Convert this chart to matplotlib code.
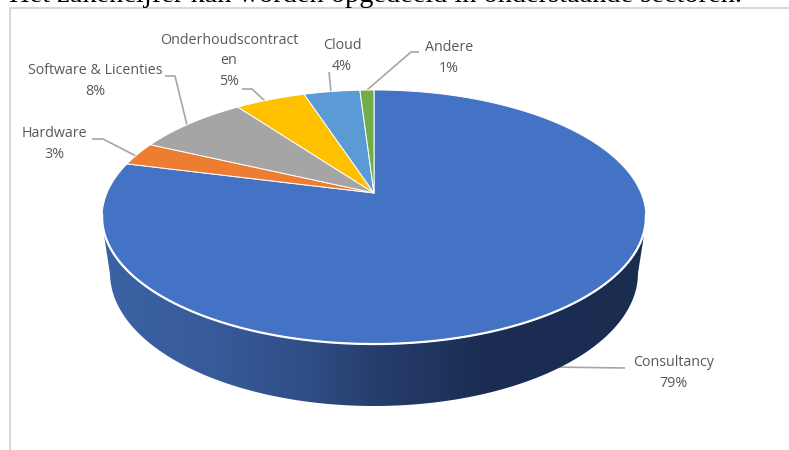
import numpy as np
import matplotlib
matplotlib.use('Agg')
import matplotlib.pyplot as plt
from matplotlib.colors import LinearSegmentedColormap
from matplotlib.patches import Polygon

# slices, clockwise from 12 o'clock
categories = ['Consultancy', 'Hardware', 'Software & Licenties', 'Onderhoudscontract\nen', 'Cloud', 'Andere']
shares = [79, 3, 8, 5, 4, 1]
slice_colors = ['#4472C4', '#ED7D31', '#A5A5A5', '#FFC000', '#5B9BD5', '#70AD47']
heading = 'Het zakencijfer kan worden opgedeeld in onderstaande sectoren.'

# where the labels and their leader lines sit, in pixels
label_pos = [(674, 373), (54, 144), (95, 81), (229, 61), (342, 56), (449, 58)]
leaders = [
    [(550, 367), (625, 368)],
    [(92, 139), (103, 139), (136, 156)],
    [(165, 76), (175, 76), (187, 125)],
    [(242, 89), (252, 89), (265, 101)],
    [(329, 72), (331, 92)],
    [(419, 52), (411, 52), (367, 90)],
]

# projective tilt of the disc, apex of the slices at (cx, cy)
cx, cy = 374, 193
tilt_k = 0.189
tilt_a = 122.5
tilt_c = 267


def project(theta):
    # theta in degrees clockwise from top
    t = np.radians(theta)
    u, v = np.sin(t), np.cos(t)
    d = 1 + tilt_k * v
    return cx + tilt_c * u / d, cy - tilt_a * v / d


fig = plt.figure(figsize=(7.89, 4.5), dpi=100)
ax = fig.add_axes([0, 0, 1, 1])

# side wall
t = np.linspace(0, 2 * np.pi, 400)
bot_x = 374 + 264 * np.cos(t)
bot_y = 273 + 133 * np.sin(t)
front = t <= np.pi
wall = np.column_stack([
    np.r_[646, 644, bot_x[front], 104, 102],
    np.r_[217, 235, bot_y[front], 235, 217],
])
wall_cmap = LinearSegmentedColormap.from_list('wall', [
    (0.0, '#3C62A4'), (0.2, '#375A9A'), (0.38, '#2F4E85'), (0.5, '#263D6C'),
    (0.7, '#1B2D53'), (1.0, '#1A2C50'),
])
img = ax.imshow(np.linspace(0, 1, 256).reshape(1, -1), cmap=wall_cmap, aspect='auto',
                extent=(104, 646, 406, 215), zorder=1)
clip = Polygon(wall, closed=True, transform=ax.transData, fc='none', ec='none')
ax.add_patch(clip)
img.set_clip_path(clip)

# top face
start = 0
for share, color in zip(shares, slice_colors):
    stop = start + share / sum(shares) * 360
    arc_x, arc_y = project(np.linspace(start, stop, 300))
    ax.fill(np.r_[cx, arc_x], np.r_[cy, arc_y], facecolor=color, edgecolor='white', lw=0.7,
            joinstyle='round', zorder=3)
    start = stop

# white rim along the front of the top face
rim_x, rim_y = project(np.linspace(100, 260, 200))
ax.plot(rim_x, rim_y, color='white', lw=1.6, zorder=4)

# leaders run behind the wall and the top face
for points in leaders:
    xs, ys = zip(*points)
    ax.plot(xs, ys, color='#A6A6A6', lw=1.2, zorder=0.5, solid_capstyle='butt')

for name, share, (x, y) in zip(categories, shares, label_pos):
    ax.text(x, y, f'{name}\n{share}%', ha='center', va='center', family='Open Sans',
            fontsize=10.3, color='#595959', linespacing=1.5, zorder=5)

# chart frame, cut off by the screenshot
ax.plot([10, 10, 789], [450, 8, 8], color='#D9D9D9', lw=1.5, zorder=0)
ax.text(9, 2.5, heading, family='Liberation Serif', fontsize=20.4, color='black', va='baseline')

ax.set_xlim(0, 789)
ax.set_ylim(450, 0)
ax.axis('off')

fig.savefig('out.png', dpi=100)
